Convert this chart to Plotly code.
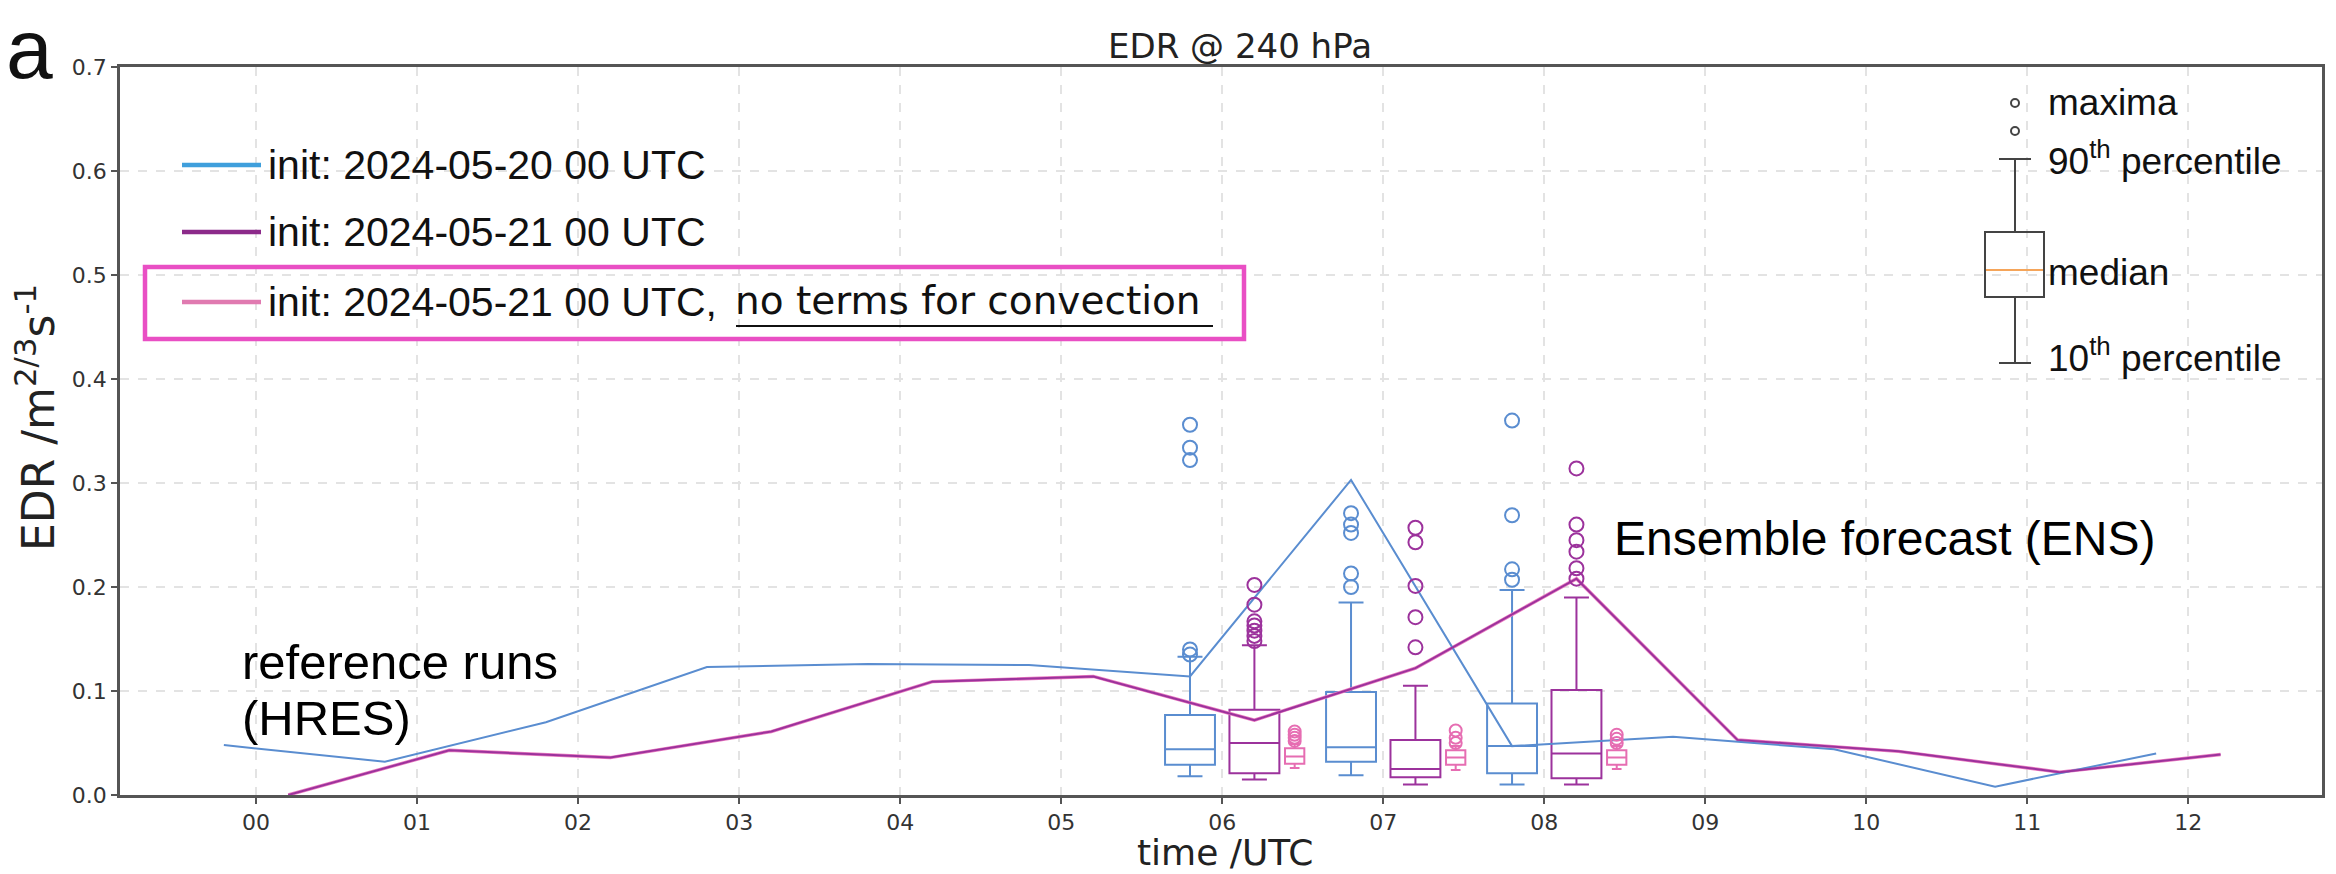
import plotly.graph_objects as go

# ---------------- data ----------------
hour_ticks = list(range(13))
hour_labels = [f"{h:02d}" for h in hour_ticks]

# HRES reference runs
blue_x = [-0.2, 0.8, 1.8, 2.8, 3.8, 4.8, 5.8, 6.8, 7.8, 8.8, 9.8, 10.8, 11.8]
blue_y = [0.048, 0.032, 0.070, 0.123, 0.126, 0.125, 0.114, 0.303, 0.047, 0.056, 0.044, 0.008, 0.040]
purple_x = [0.2, 1.2, 2.2, 3.2, 4.2, 5.2, 6.2, 7.2, 8.2, 9.2, 10.2, 11.2, 12.2]
purple_y = [0.000, 0.043, 0.036, 0.061, 0.109, 0.114, 0.072, 0.122, 0.208, 0.053, 0.042, 0.022, 0.039]
pink_x = [0.2, 1.2, 2.2, 3.2, 4.2, 5.2, 6.2, 7.2, 8.2, 9.2, 10.2, 11.2, 12.2]
pink_y = [0.000, 0.043, 0.036, 0.061, 0.109, 0.114, 0.072, 0.122, 0.208, 0.053, 0.042, 0.022, 0.039]

# ENS box statistics (10th pct, q1, median, q3, 90th pct) and maxima
blue_box_x = [5.8, 6.8, 7.8]
blue_p10 = [0.018, 0.019, 0.010]
blue_q1 = [0.029, 0.032, 0.021]
blue_med = [0.044, 0.046, 0.047]
blue_q3 = [0.077, 0.099, 0.088]
blue_p90 = [0.133, 0.185, 0.197]
blue_fliers = [[0.135, 0.140, 0.322, 0.334, 0.356],
               [0.200, 0.213, 0.252, 0.260, 0.271],
               [0.207, 0.217, 0.269, 0.360]]

purple_box_x = [6.2, 7.2, 8.2]
purple_p10 = [0.015, 0.010, 0.010]
purple_q1 = [0.021, 0.017, 0.016]
purple_med = [0.050, 0.025, 0.040]
purple_q3 = [0.082, 0.053, 0.101]
purple_p90 = [0.144, 0.105, 0.190]
purple_fliers = [[0.148, 0.153, 0.158, 0.163, 0.167, 0.183, 0.202],
                 [0.142, 0.171, 0.201, 0.243, 0.257],
                 [0.208, 0.218, 0.234, 0.245, 0.260, 0.314]]

pink_box_x = [6.45, 7.45, 8.45]
pink_p10 = [0.026, 0.024, 0.025]
pink_q1 = [0.030, 0.029, 0.029]
pink_med = [0.037, 0.036, 0.036]
pink_q3 = [0.045, 0.043, 0.043]
pink_p90 = [0.049, 0.047, 0.047]
pink_fliers = [[0.052, 0.055, 0.058, 0.061],
               [0.050, 0.055, 0.062],
               [0.050, 0.054, 0.058]]

legend_labels = ["init: 2024-05-20 00 UTC", "init: 2024-05-21 00 UTC", "init: 2024-05-21 00 UTC,"]

# ---------------- style ----------------
C_BLUE = "#5a8dd0"
C_PURPLE = "#9c329c"
C_PINK = "#ea7cc0"
LEG_COLORS = ["#3f9fdc", "#8c2a8a", "#e07ab0"]

# plot area in pixels
X0, X1, Y0, Y1 = 120, 2322, 67, 795


def px(x):
    return (x - X0) / (X1 - X0)


def py(y):
    return (Y1 - y) / (Y1 - Y0)


fig = go.Figure()

# HRES lines
fig.add_trace(go.Scatter(x=pink_x, y=pink_y, mode="lines", line=dict(color=C_PINK, width=3.4),
                         showlegend=False, hoverinfo="skip"))
fig.add_trace(go.Scatter(x=blue_x, y=blue_y, mode="lines", line=dict(color=C_BLUE, width=2),
                         showlegend=False))
fig.add_trace(go.Scatter(x=purple_x, y=purple_y, mode="lines", line=dict(color=C_PURPLE, width=2),
                         showlegend=False))


def add_boxes(xs, p10, q1, med, q3, p90, fl, color, width, msize):
    fig.add_trace(go.Box(x=xs, lowerfence=p10, q1=q1, median=med, q3=q3, upperfence=p90,
                         width=width, whiskerwidth=0.5, boxpoints=False,
                         line=dict(color=color, width=2), fillcolor="rgba(0,0,0,0)",
                         showlegend=False))
    fx, fy = [], []
    for xv, vals in zip(xs, fl):
        for v in vals:
            fx.append(xv)
            fy.append(v)
    fig.add_trace(go.Scatter(x=fx, y=fy, mode="markers",
                             marker=dict(symbol="circle-open", size=msize, color=color,
                                         line=dict(width=2, color=color)),
                             showlegend=False))


add_boxes(blue_box_x, blue_p10, blue_q1, blue_med, blue_q3, blue_p90, blue_fliers, C_BLUE, 0.31, 14)
add_boxes(purple_box_x, purple_p10, purple_q1, purple_med, purple_q3, purple_p90, purple_fliers, C_PURPLE, 0.31, 14)
add_boxes(pink_box_x, pink_p10, pink_q1, pink_med, pink_q3, pink_p90, pink_fliers, "#e66db2", 0.12, 12)

shapes = []
annotations = []

# ---- manual line legend ----
rows_y = [165, 232, 302]
for lab, col, ry in zip(legend_labels, LEG_COLORS, rows_y):
    shapes.append(dict(type="line", xref="paper", yref="paper", x0=px(182), x1=px(261),
                       y0=py(ry), y1=py(ry), line=dict(color=col, width=4.5)))
    annotations.append(dict(xref="paper", yref="paper", x=px(266), y=py(ry), xanchor="left",
                            yanchor="middle", text=lab, showarrow=False,
                            font=dict(family="Liberation Sans, Arial", size=41, color="#111")))
annotations.append(dict(xref="paper", yref="paper", x=px(733), y=py(300), xanchor="left",
                        yanchor="middle", text="no terms for convection", showarrow=False,
                        font=dict(family="DejaVu Sans", size=39, color="#111")))
shapes.append(dict(type="line", xref="paper", yref="paper", x0=px(736), x1=px(1213),
                   y0=py(326), y1=py(326), line=dict(color="#111", width=1.8)))
shapes.append(dict(type="rect", xref="paper", yref="paper", x0=px(145), x1=px(1244),
                   y0=py(339), y1=py(267), line=dict(color="#e94fc4", width=4.5)))

# ---- box-plot explanation (right) ----
GK = "#444"
cx = 2015
for cy in (103, 131):
    shapes.append(dict(type="circle", xref="paper", yref="paper", x0=px(cx - 4), x1=px(cx + 4),
                       y0=py(cy + 4), y1=py(cy - 4), line=dict(color=GK, width=2)))
shapes.append(dict(type="line", xref="paper", yref="paper", x0=px(1999), x1=px(2031),
                   y0=py(159), y1=py(159), line=dict(color=GK, width=2)))
shapes.append(dict(type="line", xref="paper", yref="paper", x0=px(cx), x1=px(cx),
                   y0=py(159), y1=py(232), line=dict(color=GK, width=2)))
shapes.append(dict(type="rect", xref="paper", yref="paper", x0=px(1985), x1=px(2044),
                   y0=py(297), y1=py(232), line=dict(color=GK, width=2)))
shapes.append(dict(type="line", xref="paper", yref="paper", x0=px(1986), x1=px(2043),
                   y0=py(270), y1=py(270), line=dict(color="#f5a55a", width=2)))
shapes.append(dict(type="line", xref="paper", yref="paper", x0=px(cx), x1=px(cx),
                   y0=py(297), y1=py(363), line=dict(color=GK, width=2)))
shapes.append(dict(type="line", xref="paper", yref="paper", x0=px(1999), x1=px(2031),
                   y0=py(363), y1=py(363), line=dict(color=GK, width=2)))
for txt, ty in [("maxima", 102), ("90<sup>th</sup> percentile", 158),
                ("median", 272), ("10<sup>th</sup> percentile", 355)]:
    annotations.append(dict(xref="paper", yref="paper", x=px(2046), y=py(ty), xanchor="left",
                            yanchor="middle", text=txt, showarrow=False,
                            font=dict(family="Liberation Sans, Arial", size=37, color="#111")))

# ---- text annotations ----
annotations.append(dict(xref="paper", yref="paper", x=px(240), y=py(662), xanchor="left",
                        yanchor="middle", text="reference runs", showarrow=False,
                        font=dict(family="Liberation Sans, Arial", size=49, color="#000")))
annotations.append(dict(xref="paper", yref="paper", x=px(240), y=py(718), xanchor="left",
                        yanchor="middle", text="(HRES)", showarrow=False,
                        font=dict(family="Liberation Sans, Arial", size=49, color="#000")))
annotations.append(dict(xref="paper", yref="paper", x=px(1612), y=py(538), xanchor="left",
                        yanchor="middle", text="Ensemble forecast (ENS)", showarrow=False,
                        font=dict(family="Liberation Sans, Arial", size=48, color="#000")))
# title
annotations.append(dict(xref="paper", yref="paper", x=px(1240), y=py(46), xanchor="center",
                        yanchor="middle", text="EDR @ 240 hPa", showarrow=False,
                        font=dict(family="DejaVu Sans", size=34, color="#222")))
# axis titles
annotations.append(dict(xref="paper", yref="paper", x=px(1225), y=py(852), xanchor="center",
                        yanchor="middle", text="time /UTC", showarrow=False,
                        font=dict(family="DejaVu Sans", size=36, color="#222")))
annotations.append(dict(xref="paper", yref="paper", x=px(36), y=py(418), xanchor="center",
                        yanchor="middle", text="EDR /m<sup>2/3</sup>s<sup>-1</sup>",
                        textangle=-90, showarrow=False,
                        font=dict(family="DejaVu Sans", size=44, color="#222")))
# panel letter
annotations.append(dict(xref="paper", yref="paper", x=px(4), y=py(0), xanchor="left",
                        yanchor="top", text="a", showarrow=False,
                        font=dict(family="Liberation Sans, Arial", size=84, color="#111")))

fig.update_layout(
    width=2336, height=874, autosize=False,
    margin=dict(l=X0, r=2336 - X1, t=Y0, b=874 - Y1),
    paper_bgcolor="white", plot_bgcolor="white",
    showlegend=False, boxmode="overlay",
    shapes=shapes, annotations=annotations,
)
fig.update_xaxes(range=[-0.845, 12.83], tickvals=hour_ticks, ticktext=hour_labels,
                 showgrid=True, gridcolor="#e3e3e3", griddash="dash", gridwidth=1.5,
                 showline=True, linecolor="#555", linewidth=2.5, mirror=True,
                 ticks="outside", ticklen=6, tickcolor="#555", tickwidth=1.5,
                 tickfont=dict(family="DejaVu Sans", size=22, color="#333"), zeroline=False)
fig.update_yaxes(range=[0, 0.7], dtick=0.1, tickformat=".1f",
                 showgrid=True, gridcolor="#e3e3e3", griddash="dash", gridwidth=1.5,
                 showline=True, linecolor="#555", linewidth=2.5, mirror=True,
                 ticks="outside", ticklen=6, tickcolor="#555", tickwidth=1.5,
                 tickfont=dict(family="DejaVu Sans", size=22, color="#333"), zeroline=False)

fig.write_html("out.html")
